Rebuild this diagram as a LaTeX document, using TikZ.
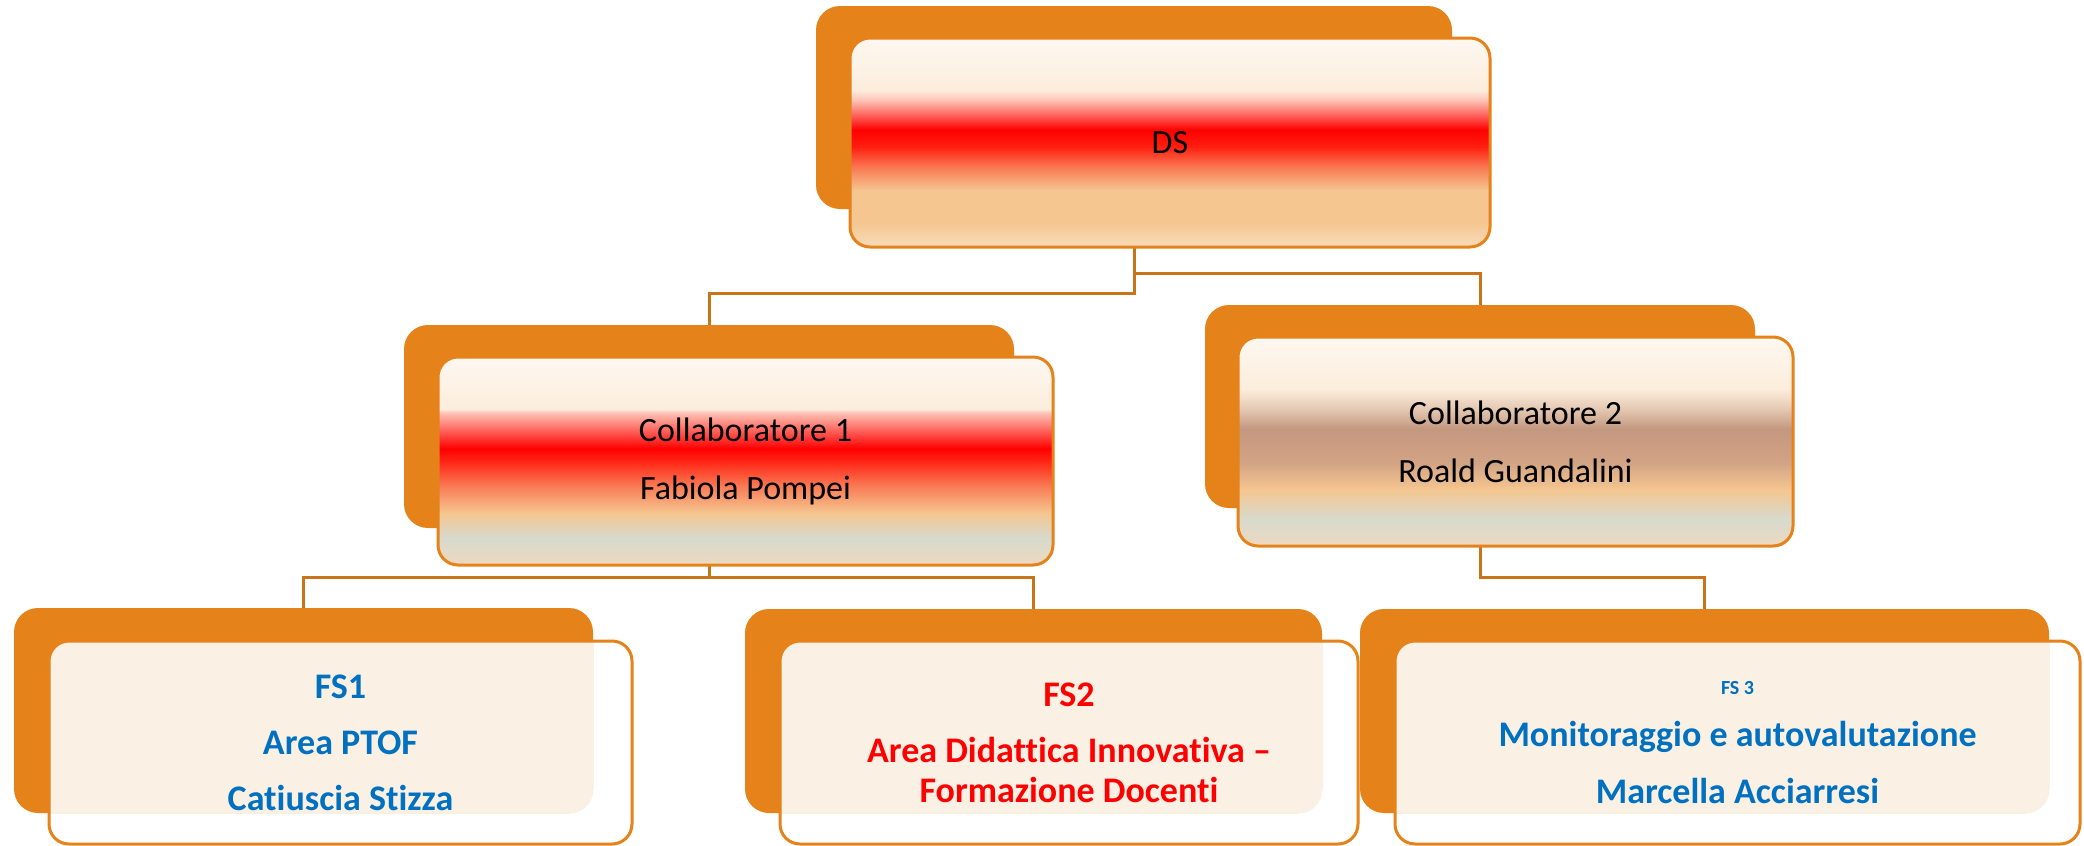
\documentclass[tikz,border=0pt]{standalone}
\usepackage{fontspec}
\setmainfont{Carlito}[Ligatures=NoCommon]
\usepackage{tikz}
\usetikzlibrary{backgrounds}

\definecolor{boxorange}{HTML}{E5821A}
\definecolor{linkbrown}{HTML}{C87419}
\definecolor{fscream}{HTML}{FBF0E4}
\definecolor{fsblue}{HTML}{0070C0}
\definecolor{fsred}{HTML}{FF0000}
\definecolor{shcream}{HTML}{FDF8F1}
\definecolor{shcreamb}{HTML}{FCEDDC}
\definecolor{shpink}{HTML}{FDC0B2}
\definecolor{shred}{HTML}{FF0000}
\definecolor{shredb}{HTML}{FF1E10}
\definecolor{shsalmon}{HTML}{F97A55}
\definecolor{shpeach}{HTML}{F5C690}
\definecolor{shpeachlt}{HTML}{F8DCBA}
\definecolor{shgrey}{HTML}{D7DACD}
\definecolor{shgreylt}{HTML}{EDD9C0}
\definecolor{shbrown}{HTML}{C4977F}
\definecolor{shbrownb}{HTML}{D2A384}
\definecolor{shbeige}{HTML}{E2C6B0}

\pgfdeclareverticalshading{redband}{100bp}{color(0bp)=(shpeachlt); color(25bp)=(shpeachlt);
  color(31bp)=(shpeach); color(38.5bp)=(shpeach); color(44bp)=(shsalmon); color(49bp)=(shredb);
  color(53bp)=(shred); color(60bp)=(shpink); color(62.5bp)=(shcreamb); color(75bp)=(shcream);
  color(100bp)=(shcream)}
\pgfdeclareverticalshading{redgrey}{100bp}{color(0bp)=(shgreylt); color(25bp)=(shgreylt);
  color(31.5bp)=(shgrey); color(37.5bp)=(shpeach); color(44bp)=(shsalmon); color(50.5bp)=(shredb);
  color(53bp)=(shred); color(61.5bp)=(shpink); color(62.5bp)=(shcreamb); color(75bp)=(shcream);
  color(100bp)=(shcream)}
\pgfdeclareverticalshading{brownband}{100bp}{color(0bp)=(shgreylt); color(25bp)=(shgreylt);
  color(31.5bp)=(shgrey); color(38.5bp)=(shpeach); color(45bp)=(shbrownb); color(53bp)=(shbrown);
  color(57.5bp)=(shbeige); color(62.5bp)=(shcreamb); color(75bp)=(shcream); color(100bp)=(shcream)}

\begin{document}
\begin{tikzpicture}
[x=0.5pt,y=-0.5pt,
back/.style={rectangle,rounded corners=12pt,fill=boxorange,inner sep=0pt},
front/.style={rectangle,rounded corners=10pt,draw=boxorange,line width=1.5pt,inner sep=0pt,align=center},
head/.style={front,shade,font=\fontsize{17}{29}\selectfont},
fsbox/.style={front,
  path picture={\fill[fscream,rounded corners=12pt] (#1.north west) rectangle (#1.south east);}},
link/.style={draw=linkbrown,line width=1.5pt}]
\useasboundingbox (0,0) rectangle (2084,846);
% top
\node at (1134,107.5) [back,minimum width=318pt,minimum height=101.5pt] (dsback) {};
\node at (1170,142.5) [head,shading=redband,minimum width=320pt,minimum height=104.5pt] (ds) {DS};
% collaboratori
\node at (709,426.5) [back,minimum width=305pt,minimum height=101.5pt] (collback1) {};
\node at (745.5,461) [head,shading=redgrey,minimum width=307.5pt,minimum height=104pt] (coll1)
  {Collaboratore 1\\Fabiola Pompei};
\node at (1480,406.5) [back,minimum width=275pt,minimum height=101.5pt] (collback2) {};
\node at (1515.5,441.5) [head,shading=brownband,minimum width=277.5pt,minimum height=104.5pt] (coll2)
  {Collaboratore 2\\Roald Guandalini};
% funzioni strumentali
\node at (303.5,710.5) [back,minimum width=289.5pt,minimum height=102.5pt] (fsback1) {};
\node at (340.5,742.5) [fsbox=fsback1,text=fsblue,font=\bfseries\fontsize{18}{28}\selectfont,
  minimum width=291.5pt,minimum height=101.5pt] (fs1)
  {FS1\\Area PTOF\\Catiuscia Stizza};
\node at (1033.5,711) [back,minimum width=288.5pt,minimum height=102pt] (fsback2) {};
\node at (1069,742.5) [fsbox=fsback2,text=fsred,font=\bfseries\fontsize{18}{20}\selectfont,
  minimum width=289pt,minimum height=101.5pt] (fs2)
  {FS2\\[8pt]Area Didattica Innovativa –\\Formazione Docenti};
\node at (1704.5,711) [back,minimum width=344.5pt,minimum height=102pt] (fsback3) {};
\node at (1737.5,742.5) [fsbox=fsback3,text=fsblue,font=\bfseries\fontsize{18}{28.5}\selectfont,
  minimum width=342.5pt,minimum height=101.5pt] (fs3)
  {{\fontsize{10}{12}\selectfont FS 3}\\[-2.5pt]Monitoraggio e autovalutazione\\Marcella Acciarresi};
% connettori
\begin{pgfonlayer}{background}
\draw[link] (dsback.south) -- ++(0,84) -| (collback1.north);
\draw[link] (dsback.south) -- ++(0,64) -| (collback2.north);
\draw[link] (collback1.south) -- ++(0,49) -| (fsback1.north);
\draw[link] (collback1.south) -- ++(0,49) -| (fsback2.north);
\draw[link] (collback2.south) -- ++(0,69) -| (fsback3.north);
\end{pgfonlayer}
\end{tikzpicture}
\end{document}
